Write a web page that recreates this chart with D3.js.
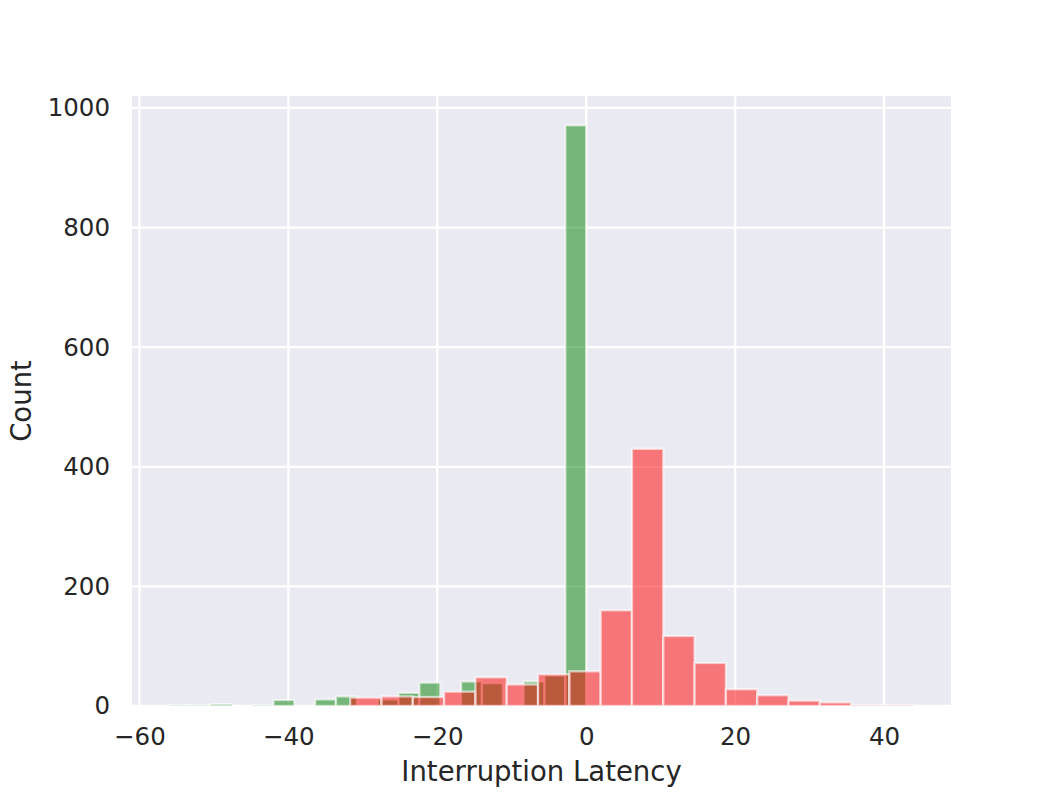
<!DOCTYPE html>
<html>
<head>
<meta charset="utf-8">
<script src="https://cdn.jsdelivr.net/npm/d3@7"></script>
<style>
  body { margin: 0; background: #fff; }
  text { font-family: "DejaVu Sans", sans-serif; fill: #262626; }
</style>
</head>
<body>
<svg></svg>
<script>
// histogram counts
var greenRange = [-56, 0];
var greenCounts = [1, 1, 3, 0, 1, 10, 0, 11, 16, 0, 11, 22, 39, 0, 41, 38, 0, 41, 51, 971];
var redRange = [-31.7, 44];
var redCounts = [14, 16, 15, 24, 48, 36, 53, 58, 160, 430, 117, 72, 28, 18, 9, 6, 1, 1];
var xTicks = [-60, -40, -20, 0, 20, 40];
var yTicks = [0, 200, 400, 600, 800, 1000];

var svgW = 1057, svgH = 793;
var plotL = 132, plotR = 951, plotT = 96, plotB = 706;

var svg = d3.select("svg").attr("width", svgW).attr("height", svgH);

var xScale = d3.scaleLinear().domain([-61, 49]).range([plotL, plotR]);
var yScale = d3.scaleLinear().domain([0, 1020]).range([plotB, plotT]);

// background
svg.append("rect")
  .attr("x", plotL).attr("y", plotT)
  .attr("width", plotR - plotL).attr("height", plotB - plotT)
  .attr("fill", "#eaeaf2");

svg.append("clipPath").attr("id", "clip")
  .append("rect")
  .attr("x", plotL).attr("y", plotT)
  .attr("width", plotR - plotL).attr("height", plotB - plotT);

// grid
svg.append("g").selectAll("line")
  .data(xTicks).enter().append("line")
  .attr("x1", function(d) { return xScale(d); })
  .attr("x2", function(d) { return xScale(d); })
  .attr("y1", plotT).attr("y2", plotB)
  .attr("stroke", "white").attr("stroke-width", 2.3);
svg.append("g").selectAll("line")
  .data(yTicks).enter().append("line")
  .attr("y1", function(d) { return yScale(d); })
  .attr("y2", function(d) { return yScale(d); })
  .attr("x1", plotL).attr("x2", plotR)
  .attr("stroke", "white").attr("stroke-width", 2.3);

function makeBins(range, counts) {
  var w = (range[1] - range[0]) / counts.length;
  return counts.map(function(c, i) {
    return { x0: range[0] + i * w, x1: range[0] + (i + 1) * w, n: c };
  });
}

function drawHist(bins, color) {
  svg.append("g").attr("clip-path", "url(#clip)")
    .selectAll("rect")
    .data(bins).enter().append("rect")
    .attr("x", function(d) { return xScale(d.x0); })
    .attr("width", function(d) { return xScale(d.x1) - xScale(d.x0); })
    .attr("y", function(d) { return yScale(d.n); })
    .attr("height", function(d) { return yScale(0) - yScale(d.n); })
    .attr("fill", color).attr("fill-opacity", 0.5)
    .attr("stroke", "white").attr("stroke-opacity", 0.6)
    .attr("stroke-width", 2.3);
}

drawHist(makeBins(greenRange, greenCounts), "#008000");
drawHist(makeBins(redRange, redCounts), "#ff0000");

// tick labels
var xAxis = d3.axisBottom(xScale).tickValues(xTicks).tickSize(0).tickPadding(22)
  .tickFormat(function(d) { return d < 0 ? "\u2212" + Math.abs(d) : d; });
var gx = svg.append("g").attr("transform", "translate(0," + plotB + ")").call(xAxis);
gx.select(".domain").remove();
gx.selectAll("text").style("font-size", "24.5px").attr("fill", "#262626");

var yAxis = d3.axisLeft(yScale).tickValues(yTicks).tickSize(0).tickPadding(22)
  .tickFormat(d3.format("d"));
var gy = svg.append("g").attr("transform", "translate(" + plotL + ",0)").call(yAxis);
gy.select(".domain").remove();
gy.selectAll("text").style("font-size", "24.5px").attr("fill", "#262626");

// axis titles
svg.append("text")
  .text("Interruption Latency")
  .attr("x", (plotL + plotR) / 2).attr("y", 781)
  .attr("text-anchor", "middle")
  .style("font-size", "27.5px");

svg.append("text")
  .text("Count")
  .attr("transform", "translate(31," + ((plotT + plotB) / 2) + ") rotate(-90)")
  .attr("text-anchor", "middle")
  .style("font-size", "27.5px");
</script>
</body>
</html>
